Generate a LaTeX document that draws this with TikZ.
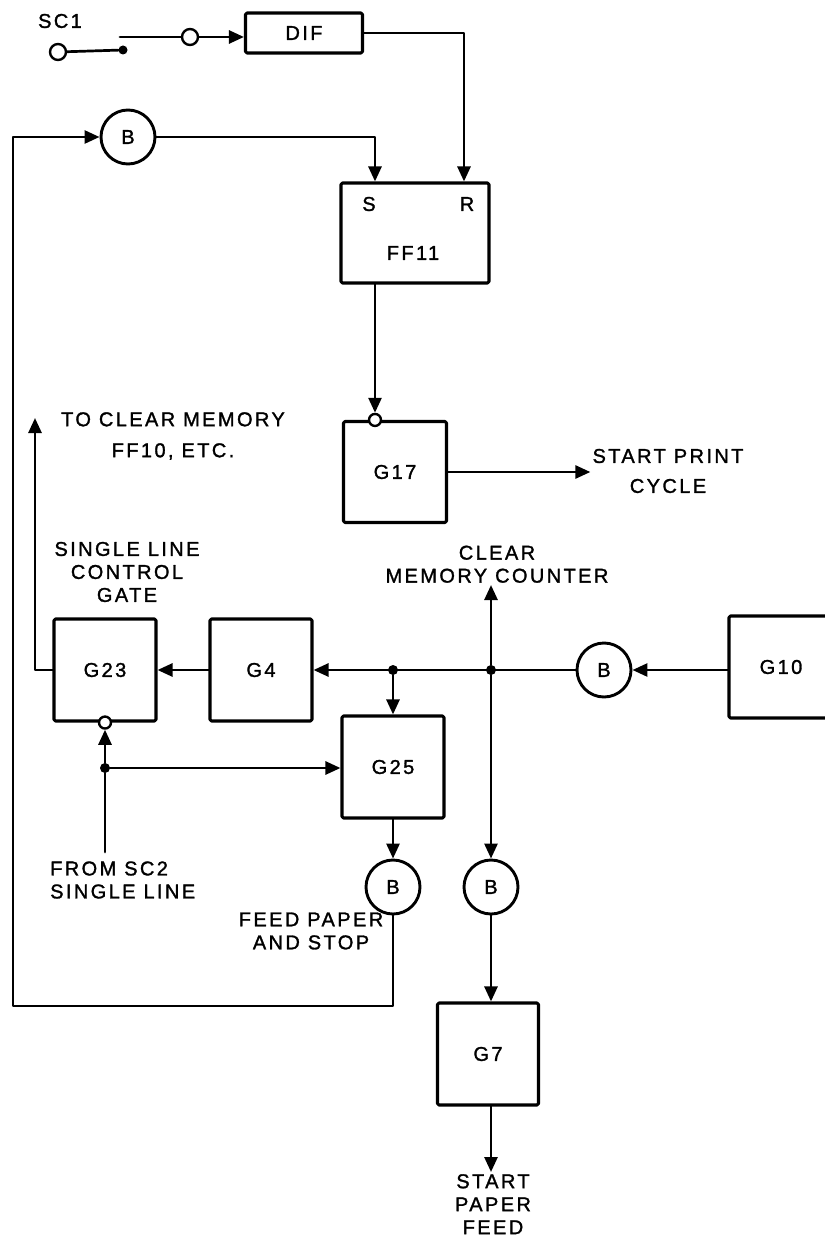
\documentclass[tikz,border=0pt]{standalone}
\usepackage{fontspec}
\setmainfont{Liberation Sans}[LetterSpace=12, FakeBold=1.4]
\usetikzlibrary{arrows.meta}

\begin{document}
\begin{tikzpicture}[x=1pt, y=-1pt, line cap=round, line join=round,
    font=\fontsize{20}{23}\selectfont,
    wire/.style={line width=2.7pt},
    arr/.style={wire, -{Triangle[length=15pt, width=13pt]}},
    gate/.style={draw, line width=3.1pt, rounded corners=1.5pt, minimum width=102pt, minimum height=102pt, inner sep=0pt},
    buf/.style={draw, circle, line width=2.9pt, minimum size=54pt, inner sep=0pt},
    inv/.style={draw, circle, fill=white, line width=2.4pt, minimum size=12pt, inner sep=0pt},
    term/.style={draw, circle, line width=2.4pt, minimum size=16pt, inner sep=0pt},
    dot/.style={fill, circle, minimum size=10pt, inner sep=0pt},
    lbl/.style={align=center, inner sep=2pt}]
  \useasboundingbox (0,0) rectangle (824,1249);

  % input switch SC1
  \node (sc1) at (60,21) {SC1};
  \node[term] (t1) at (58,52) {};
  \node[dot, minimum size=9pt] (cnt) at (123,50) {};
  \coordinate (arm) at (120,37);
  \node[term] (t2) at (190,37) {};
  \node[gate, minimum width=117pt, minimum height=40pt] (DIF) at (304,33) {DIF};
  \draw[wire] (t1) -- (cnt);
  \draw[wire] (arm) -- (t2);
  \draw[arr] (t2) -- (t2 -| DIF.west);

  % flip-flop and print gate
  \node[gate, minimum width=148pt, minimum height=100pt] (FF11) at (415,233) {};
  \node (ffS) at (369,204) {S};
  \node (ffR) at (467,204) {R};
  \node (ffN) at (413,253) {FF11};
  \node[buf] (bS) at (128,137) {B};
  \node[gate, minimum width=103pt, minimum height=101pt] (G17) at (395,472) {G17};
  \node[inv] (g17n) at ([xshift=-20pt]G17.north) {};
  \node[lbl] (spc) at (668,471) {START PRINT\\[7pt]CYCLE};
  \draw[arr] (DIF.east) -| ([xshift=49pt]FF11.north);
  \draw[arr] (bS) -| ([xshift=-40pt]FF11.north);
  \draw[arr] ([xshift=-40pt]FF11.south) -- (g17n);
  \draw[arr] (G17.east) -- (G17.east -| spc.west);

  % gate row
  \node[gate] (G23) at (105,670) {G23};
  \node[gate] (G4) at (261,670) {G4};
  \node[gate, minimum width=104pt] (G10) at (781,667) {G10};
  \node[buf] (bG10) at (604,670) {B};
  \node[dot] (j1) at (491,670) {};
  \node[dot] (j2) at (393,670) {};
  \node[inv] (g23n) at (G23.south) {};
  \node[gate, minimum height=102pt] (G25) at (393,767) {G25};
  \node[dot] (j3) at (105,768) {};
  \coordinate (sc2) at (105,852);
  \coordinate (tcm) at (35,418);
  \node[lbl] (tcmL) at (173,436) {TO CLEAR MEMORY\\[8pt]FF10, ETC.};
  \node[lbl] (slcg) at (127,572) {SINGLE LINE\\CONTROL\\GATE};
  \node[lbl, anchor=south] (cmc) at (497,585) {CLEAR\\MEMORY COUNTER};
  \node[align=left, inner sep=0pt, anchor=west] (fsc) at (50,880) {FROM SC2\\SINGLE LINE};
  \draw[arr] (bG10 -| G10.west) -- (bG10);
  \draw[arr] (bG10) -- (G4);
  \draw[arr] (G4) -- (G23);
  \draw[arr] (G23) -| (tcm);
  \draw[arr] (j2) -- (G25);
  \draw[arr] (j1) -- (j1 |- cmc.south);
  \draw[wire] (sc2) -- (j3);
  \draw[arr] (j3) -- (g23n);
  \draw[arr] (j3) -- (j3 -| G25.west);

  % paper feed
  \node[buf] (bFeed) at (393,887) {B};
  \node[buf] (bClr) at (491,887) {B};
  \node[lbl] (fps) at (311,931) {FEED PAPER\\AND STOP};
  \node[gate, minimum width=101pt] (G7) at (488,1054) {G7};
  \node[lbl, anchor=north] (spf) at (493,1172) {START\\PAPER\\FEED};
  \coordinate (lpB) at (13,1006);
  \coordinate (lpT) at (13,137);
  \draw[arr] (G25) -- (bFeed);
  \draw[arr] (j1) -- (bClr);
  \draw[arr] (bFeed) |- (lpB) -- (lpT) -- (bS);
  \draw[arr] (bClr) -- (bClr |- G7.north);
  \draw[arr] (bClr |- G7.south) -- (bClr |- spf.north);
\end{tikzpicture}
\end{document}
